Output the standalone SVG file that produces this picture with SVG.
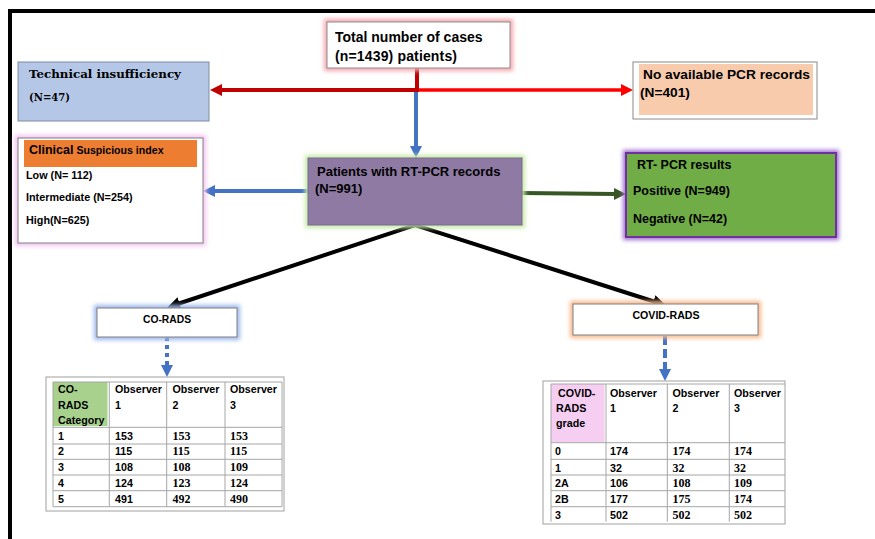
<svg xmlns="http://www.w3.org/2000/svg" width="875" height="539" viewBox="0 0 875 539">
<style>
.t{font-family:"Liberation Sans",Arial,sans-serif;font-weight:bold;fill:#000}
.s{font-family:"DejaVu Serif","Liberation Serif",serif;font-weight:bold;fill:#000}
.tm{font-family:"Liberation Serif","Times New Roman",serif;font-weight:bold;font-size:12px;fill:#000}
.tb{font-size:10.7px}
.glow{fill:none;stroke-width:6;filter:url(#blur)}
.grid{stroke:#A6A6A6;stroke-width:1;fill:none}
</style>
<defs>
<filter id="blur" x="-20%" y="-40%" width="140%" height="180%"><feGaussianBlur stdDeviation="2"/></filter>
<marker id="mDR" viewBox="0 0 12 12" markerWidth="12" markerHeight="12" refX="2" refY="6" orient="auto" markerUnits="userSpaceOnUse"><path d="M0,0L12,6L0,12z" fill="#C00000"/></marker>
<marker id="mR" viewBox="0 0 12 12" markerWidth="12" markerHeight="12" refX="2" refY="6" orient="auto" markerUnits="userSpaceOnUse"><path d="M0,0L12,6L0,12z" fill="#FF0000"/></marker>
<marker id="mB" viewBox="0 0 12 12" markerWidth="12" markerHeight="12" refX="2" refY="6" orient="auto" markerUnits="userSpaceOnUse"><path d="M0,0L12,6L0,12z" fill="#4472C4"/></marker>
<marker id="mG" viewBox="0 0 12 12" markerWidth="12" markerHeight="12" refX="2" refY="6" orient="auto" markerUnits="userSpaceOnUse"><path d="M0,0L12,6L0,12z" fill="#375623"/></marker>
<marker id="mK" viewBox="0 0 12 12" markerWidth="13" markerHeight="13" refX="2" refY="6" orient="auto-start-reverse" markerUnits="userSpaceOnUse"><path d="M0,0L12,6L0,12z" fill="#000"/></marker>
</defs>
<rect width="875" height="539" fill="#fff"/>
<path d="M10,539V11H875" fill="none" stroke="#000" stroke-width="4"/>

<g id="connectors">
<path d="M417,68V90H220" fill="none" stroke="#C00000" stroke-width="4" marker-end="url(#mDR)"/>
<path d="M419,90H623" fill="none" stroke="#FF0000" stroke-width="3.5" marker-end="url(#mR)"/>
<path d="M416,92V148" fill="none" stroke="#4472C4" stroke-width="4" marker-end="url(#mB)"/>
<path d="M308,191H213" fill="none" stroke="#4472C4" stroke-width="4" marker-end="url(#mB)"/>
<path d="M522,193L616,194" fill="none" stroke="#375623" stroke-width="4" marker-end="url(#mG)"/>
<path d="M177.5,304L415,225L655.5,302" fill="none" stroke="#000" stroke-width="4" stroke-linejoin="miter" marker-start="url(#mK)" marker-end="url(#mK)"/>
<path d="M167,337V367" fill="none" stroke="#4472C4" stroke-width="4" stroke-dasharray="4 4" marker-end="url(#mB)"/>
<path d="M665,336V371" fill="none" stroke="#4472C4" stroke-width="4" stroke-dasharray="9 4" marker-end="url(#mB)"/>
</g>

<g id="total">
<rect class="glow" x="327" y="22" width="183" height="46" stroke="#F4A6AE"/>
<rect x="327" y="22" width="183" height="46" fill="#fff" stroke="#8C8C8C"/>
<text class="t" x="335" y="42" font-size="14">Total number of cases</text>
<text class="t" x="335" y="61" font-size="14" textLength="122">(n=1439) patients)</text>
</g>

<g id="technical">
<rect x="18" y="62" width="191" height="59" fill="#B4C7E7" stroke="#7F8C9F"/>
<text class="s" x="29" y="78" font-size="11.5" textLength="152" lengthAdjust="spacingAndGlyphs">Technical insufficiency</text>
<text class="s" x="29" y="101" font-size="11.5" textLength="41" lengthAdjust="spacingAndGlyphs">(N=47)</text>
</g>

<g id="nopcr">
<rect x="633" y="62" width="184" height="57" fill="#fff" stroke="#8A8A8A"/>
<rect x="639" y="64" width="174" height="51" fill="#F8CBAD"/>
<text class="t" x="643" y="79" font-size="13.7" textLength="167" lengthAdjust="spacingAndGlyphs">No available PCR records</text>
<text class="t" x="640" y="97" font-size="13.7">(N=401)</text>
</g>

<g id="clinical">
<rect class="glow" x="18" y="138" width="185" height="105" stroke="#F4C4F2"/>
<rect x="18" y="138" width="185" height="105" fill="#fff" stroke="#7F7F7F"/>
<rect x="24" y="140" width="173" height="27" fill="#ED7D31"/>
<text class="t" x="29" y="154"><tspan font-size="12.5">Clinical</tspan><tspan font-size="10.6"> Suspicious index</tspan></text>
<text class="t" x="26" y="179" font-size="10.8">Low (N= 112)</text>
<text class="t" x="26" y="201" font-size="10.8">Intermediate (N=254)</text>
<text class="t" x="26" y="224" font-size="10.8">High(N=625)</text>
</g>

<g id="patients">
<rect class="glow" x="308" y="158" width="214" height="67" stroke="#C6EBA8"/>
<rect x="308" y="158" width="214" height="67" fill="#8E7AA3" stroke="#7A6A8C"/>
<text class="t" x="317" y="176" font-size="13">Patients with RT-PCR records</text>
<text class="t" x="315" y="193" font-size="13">(N=991)</text>
</g>

<g id="rtpcr">
<rect class="glow" x="626" y="153" width="210" height="84" stroke="#A070D0"/>
<rect x="626" y="153" width="210" height="84" fill="#70AD47" stroke="#7030A0" stroke-width="2"/>
<text class="t" x="637" y="169" font-size="12.5">RT- PCR results</text>
<text class="t" x="633" y="195" font-size="12.5">Positive (N=949)</text>
<text class="t" x="633" y="223" font-size="12.5">Negative (N=42)</text>
</g>

<g id="corads">
<rect class="glow" x="97" y="308" width="140" height="29" stroke="#9DB8EE"/>
<rect x="97" y="308" width="140" height="29" fill="#fff" stroke="#7F7F7F"/>
<text class="t" x="167" y="323" font-size="10.3" text-anchor="middle">CO-RADS</text>
</g>

<g id="covidrads">
<rect class="glow" x="573" y="304" width="185" height="31" stroke="#F7B88A"/>
<rect x="573" y="304" width="185" height="31" fill="#fff" stroke="#7F7F7F"/>
<text class="t" x="666" y="319" font-size="10.6" text-anchor="middle">COVID-RADS</text>
</g>

<g id="table-corads">
<rect x="46" y="377" width="238" height="134" fill="#fff" stroke="#A0A0A0"/>
<rect x="53" y="382" width="54.5" height="44" fill="#A9D18E"/>
<path class="grid" d="M53,382H282M53,427.3H282M53,444H282M53,459.3H282M53,475H282M53,490.7H282M53,506.7H282M53,382V506.7M109.3,382V506.7M166.7,382V506.7M225,382V506.7M282,382V506.7"/>
<g class="t tb">
<text x="58" y="393">CO-</text><text x="58" y="408.5">RADS</text><text x="58" y="424">Category</text>
<text x="115" y="393">Observer</text><text x="115" y="408.5">1</text>
<text x="172.5" y="393">Observer</text><text x="172.5" y="408.5">2</text>
<text x="230" y="393">Observer</text><text x="230" y="408.5">3</text>
<text x="58" y="439.5">1</text><text x="58" y="455">2</text><text x="58" y="471">3</text><text x="58" y="486.5">4</text><text x="58" y="502.5">5</text>
<text x="115" y="439.5">153</text><text x="115" y="455">115</text><text x="115" y="471">108</text><text x="115" y="486.5">124</text><text x="115" y="502.5">491</text>
</g>
<g class="tm">
<text x="172.5" y="439.5">153</text><text x="172.5" y="455">115</text><text x="172.5" y="471">108</text><text x="172.5" y="486.5">123</text><text x="172.5" y="502.5">492</text>
<text x="230" y="439.5">153</text><text x="230" y="455">115</text><text x="230" y="471">109</text><text x="230" y="486.5">124</text><text x="230" y="502.5">490</text>
</g>
</g>

<g id="table-covidrads">
<rect x="543" y="381" width="242" height="143" fill="#fff" stroke="#A0A0A0"/>
<rect x="551" y="384" width="53.5" height="58" fill="#F6CEF2"/>
<path class="grid" d="M551,384H785M551,442.7H785M551,459.3H785M551,475H785M551,490.7H785M551,506.7H785M551,384V521.7M606,384V521.7M667.3,384V521.7M729.3,384V521.7"/>
<g class="t tb">
<text x="558" y="397">COVID-</text><text x="556" y="412">RADS</text><text x="556" y="427">grade</text>
<text x="610" y="397">Observer</text><text x="610" y="412">1</text>
<text x="672.5" y="397">Observer</text><text x="672.5" y="412">2</text>
<text x="734" y="397">Observer</text><text x="734" y="412">3</text>
<text x="555" y="455">0</text><text x="555" y="472">1</text><text x="555" y="487">2A</text><text x="555" y="503">2B</text><text x="555" y="518.5">3</text>
<text x="610" y="455">174</text><text x="610" y="472">32</text><text x="610" y="487">106</text><text x="610" y="503">177</text><text x="610" y="518.5">502</text>
</g>
<g class="tm">
<text x="672.5" y="455">174</text><text x="672.5" y="472">32</text><text x="672.5" y="487">108</text><text x="672.5" y="503">175</text><text x="672.5" y="518.5">502</text>
<text x="734" y="455">174</text><text x="734" y="472">32</text><text x="734" y="487">109</text><text x="734" y="503">174</text><text x="734" y="518.5">502</text>
</g>
</g>
</svg>
